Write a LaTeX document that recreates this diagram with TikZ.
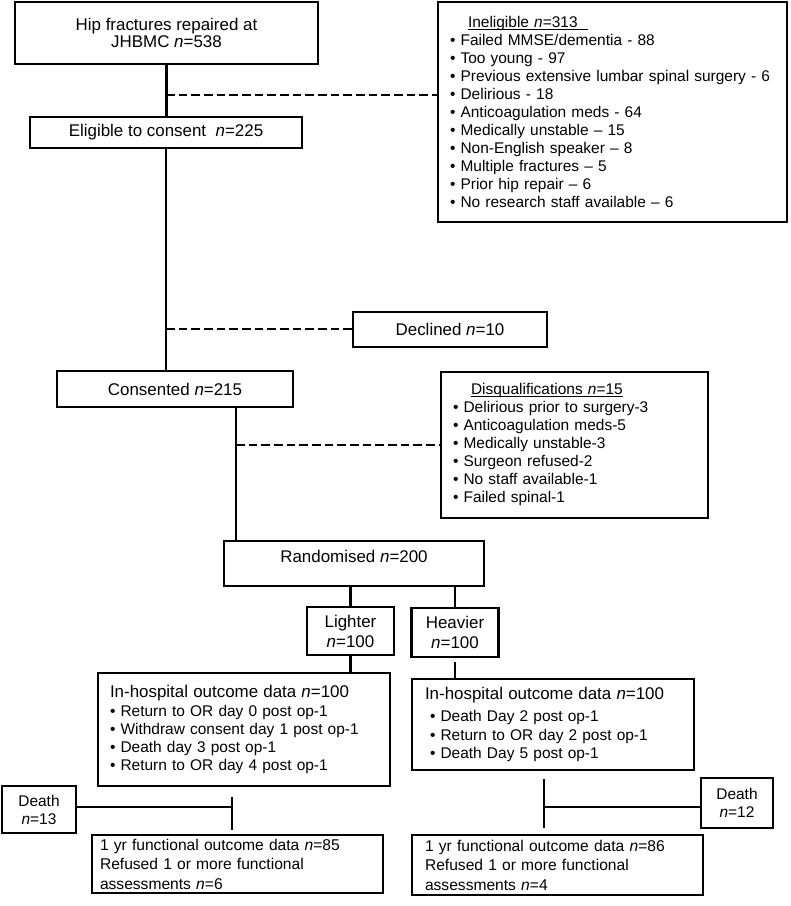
\documentclass[tikz,border=0pt]{standalone}
\usepackage{fontspec}
\setmainfont{Liberation Sans}
\usetikzlibrary{calc}

\begin{document}
\begin{tikzpicture}[x=0.75pt,y=0.75pt,yscale=-1,xscale=1,
  box/.style={draw, line width=1.8pt, inner sep=0pt, align=center, font=\fontsize{12.7}{12.75}\selectfont},
  listbox/.style={draw, line width=1.8pt, inner ysep=0pt, align=left, font=\fontsize{11.6}{13.5}\selectfont},
  link/.style={line width=1.8pt},
  dashlink/.style={line width=2pt, dash pattern=on 6.5pt off 3pt}]
        \useasboundingbox (0,0) rectangle (790,906);

        % Main column
        \node (hip) [box, minimum width=227.25pt, minimum height=46.5pt] at (166.5,33) {Hip fractures repaired at\\JHBMC \textit{n}=538};
        \node (elig) [box, minimum width=204pt, minimum height=23.25pt] at (166,132.5) {Eligible to consent \ \textit{n}=225};
        \node (cons) [box, minimum width=177pt, minimum height=27pt] at (175,389) {Consented \textit{n}=215};
        \node (rand) [box, minimum width=195pt, text height=16pt, text depth=17.7pt] at (354,563.5) {Randomised \textit{n}=200};
        \node (light) [box, font=\fontsize{12.7}{15}\selectfont, minimum width=65.25pt, minimum height=36pt] at (350.5,631) {Lighter\\\textit{n}=100};
        \node (heavy) [box, font=\fontsize{12.7}{15}\selectfont, minimum width=65.25pt, minimum height=36.75pt] at (455,632.5) {Heavier\\\textit{n}=100};

        % Side boxes
        \node (inel) [listbox, inner xsep=9pt, text width=243.75pt, minimum height=165pt] at (612.5,112) {\hspace*{13.5pt}\vphantom{I}\underline{\smash{Ineligible \textit{n}=313\hspace{8pt}}}\\
• Failed MMSE/dementia - 88\\
• Too young - 97\\
• Previous extensive lumbar spinal surgery - 6\\
• Delirious - 18\\
• Anticoagulation meds - 64\\
• Medically unstable – 15\\
• Non-English speaker – 8\\
• Multiple fractures – 5\\
• Prior hip repair – 6\\
• No research staff available – 6};
        \node (decl) [box, minimum width=145.5pt, minimum height=26.25pt] at (450,329.5) {Declined \textit{n}=10};
        \node (disq) [listbox, inner xsep=9pt, text width=182.25pt, minimum height=109.5pt] at (574.5,445) {\hspace*{13.5pt}\vphantom{I}\underline{\smash{Disqualifications \textit{n}=15}}\\
• Delirious prior to surgery-3\\
• Anticoagulation meds-5\\
• Medically unstable-3\\
• Surgeon refused-2\\
• No staff available-1\\
• Failed spinal-1};

        % Outcome boxes
        \node (inhL) [listbox, inner xsep=9pt, text width=201pt, minimum height=84.75pt] at (244,729.5) {\fontsize{12.7}{13.3}\selectfont In-hospital outcome data \textit{n}=100\\[1pt]
\fontsize{11.6}{13.3}\selectfont • Return to OR day 0 post op-1\\
• Withdraw consent day 1 post op-1\\
• Death day 3 post op-1\\
• Return to OR day 4 post op-1};
        \node (inhR) [listbox, inner xsep=9.75pt, text width=192pt, minimum height=68.25pt] at (553,724.5) {\fontsize{12.7}{13.9}\selectfont In-hospital outcome data \textit{n}=100\\[2.5pt]
\fontsize{11.6}{13.9}\selectfont \hspace*{3.75pt}• Death Day 2 post op-1\\
\hspace*{3.75pt}• Return to OR day 2 post op-1\\
\hspace*{3.75pt}• Death Day 5 post op-1};
        \node (deathL) [box, font=\fontsize{11.6}{13.5}\selectfont, minimum width=55.5pt, minimum height=35.25pt] at (39,809.5) {Death\\\textit{n}=13};
        \node (deathR) [box, font=\fontsize{11.6}{13.5}\selectfont, minimum width=54pt, minimum height=37.5pt] at (737,803) {Death\\\textit{n}=12};
        \node (oneL) [listbox, font=\fontsize{11.7}{14.6}\selectfont, inner xsep=6pt, text width=206.25pt, minimum height=43.5pt] at (237.5,864) {1 yr functional outcome data \textit{n}=85\\
Refused 1 or more functional\\
assessments \textit{n}=6};
        \node (oneR) [listbox, font=\fontsize{11.7}{14.6}\selectfont, inner xsep=9.75pt, text width=198.75pt, minimum height=45pt] at (557.5,865) {1 yr functional outcome data \textit{n}=86\\
Refused 1 or more functional\\
assessments \textit{n}=4};

        % Junctions
        \coordinate (j1) at (166,95);
        \coordinate (j2) at (166,329);
        \coordinate (j3) at (236,445);
        \coordinate (kL) at (232,807);
        \coordinate (kL1) at (232,797);
        \coordinate (kL2) at (232,830);
        \coordinate (kR) at (544,807);
        \coordinate (kR1) at (544,779);
        \coordinate (kR2) at (544,828);

        % Flow lines
        \draw [link] (hip.south) -- (hip.south |- elig.north);
        \draw [link] (elig.south) -- (elig.south |- cons.north);
        \draw [link] (cons.south -| j3) -- (rand.north -| j3);
        \draw [link] (rand.south -| light.north) -- (light.north);
        \draw [link] (rand.south -| heavy.north) -- (heavy.north);
        \draw [link] (light.south) -- (light.south |- inhL.north);
        \draw [link] ($(heavy.south)+(0,4)$) -- (heavy.south |- inhR.north);

        % Exclusions
        \draw [dashlink] (j1) -- (j1 -| inel.west);
        \draw [dashlink] (j2) -- (j2 -| decl.west);
        \draw [dashlink] (j3) -- (j3 -| disq.west);
        \draw [link] (deathL.east |- kL) -- (kL);
        \draw [link] (kL1) -- (kL2);
        \draw [link] (deathR.west |- kR) -- (kR);
        \draw [link] (kR1) -- (kR2);
\end{tikzpicture}
\end{document}
